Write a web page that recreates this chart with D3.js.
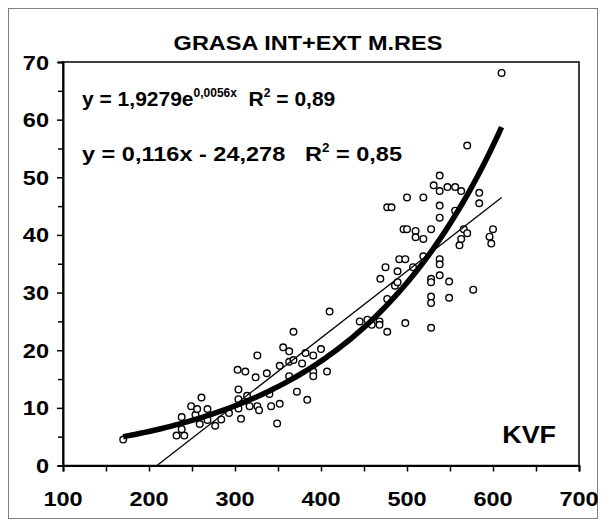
<!DOCTYPE html>
<html lang="es">
<head>
<meta charset="UTF-8">
<title>GRASA INT+EXT M.RES</title>
<script src="https://d3js.org/d3.v7.min.js"></script>
<style>
  body { margin: 0; background: #fff; }
  text { font-family: "Liberation Sans", Arial, sans-serif; font-weight: bold; fill: #000; white-space: pre; }
</style>
</head>
<body>
<div id="chart"></div>
<script>
// KVF (x) and grasa (y)
const kvf = [170, 232, 241, 238, 238, 249, 254, 256, 259, 261, 268, 268, 277, 284, 293,
  303, 304, 304, 304, 307, 312, 314, 317, 324, 326, 326, 328, 337, 340, 342, 352, 349,
  352, 356, 363, 363, 363, 368, 368, 372, 378, 382, 384, 391, 391, 391, 400, 407, 410,
  445, 454, 459, 468, 468, 477, 498, 528, 469, 475, 477, 477, 482, 486, 489, 489, 491,
  498, 496, 500, 500, 507, 510, 510, 519, 519, 519, 528, 528, 528, 528, 528, 531, 538,
  538, 538, 538, 538, 538, 538, 547, 549, 549, 556, 556, 561, 563, 563, 566, 570, 570,
  577, 584, 584, 596, 598, 600, 610];
const grasa = [4.5, 5.2, 5.2, 6.3, 8.4, 10.3, 8.8, 9.8, 7.2, 11.8, 9.8, 7.9, 6.9, 8.0, 9.1,
  16.6, 13.2, 11.5, 9.9, 8.1, 16.3, 12.1, 10.3, 15.3, 19.1, 10.3, 9.6, 16.0, 12.4, 10.3, 10.7, 7.3,
  17.3, 20.5, 19.8, 18.0, 15.5, 23.2, 18.3, 12.8, 17.7, 19.5, 11.4, 19.1, 16.3, 15.5, 20.2, 16.3, 26.7,
  25.0, 25.3, 24.4, 25.0, 24.4, 23.2, 24.7, 23.9, 32.4, 34.4, 28.9, 44.8, 44.8, 31.2, 33.7, 31.8, 35.8,
  35.8, 41.0, 41.0, 46.5, 34.4, 40.7, 39.6, 46.5, 39.3, 36.3, 41.0, 32.4, 31.8, 29.3, 28.2, 48.6, 50.3,
  47.6, 45.1, 43.0, 35.8, 34.9, 33.0, 48.3, 31.9, 29.1, 48.3, 44.2, 38.2, 47.6, 39.3, 41.0, 40.3, 55.5,
  30.5, 47.3, 45.5, 39.7, 38.5, 41.0, 68.1];

// trendline coefficients as printed on the chart
const expFit = [1.9279, 0.0056];
const linFit = [0.116, -24.278];

const xTicks = [100, 200, 300, 400, 500, 600, 700];
const yTicks = [0, 10, 20, 30, 40, 50, 60, 70];

const W = 605, H = 526;
const SX = 1.12; // the original lettering is a little stretched sideways
const svg = d3.select("#chart").append("svg")
  .attr("width", W).attr("height", H);

// text placed with a sideways stretch
function label(px, py, size, anchor, sx) {
  return svg.append("text")
    .attr("transform", `translate(${px},${py}) scale(${sx || SX},1)`)
    .attr("text-anchor", anchor || "start")
    .style("font-size", size + "px");
}

// outer chart border
svg.append("rect")
  .attr("x", 8.5).attr("y", 8.5).attr("width", 589).attr("height", 510)
  .attr("fill", "#fff").attr("stroke", "#808080").attr("stroke-width", 1);

const x = d3.scaleLinear().domain([100, 700]).range([63, 579]);
const y = d3.scaleLinear().domain([0, 70]).range([465.5, 62]);

label(308, 50, 21, "middle").text("GRASA INT+EXT M.RES");

// plot frame
svg.append("rect")
  .attr("x", x(100)).attr("y", y(70))
  .attr("width", x(700) - x(100)).attr("height", y(0) - y(70))
  .attr("fill", "none").attr("stroke", "#000").attr("stroke-width", 1.5);

// axes
const xAxis = svg.append("g")
  .attr("transform", `translate(0,${y(0)})`)
  .call(d3.axisBottom(x).tickValues(d3.range(100, 701, 50)).tickSize(6).tickFormat(""));
const yAxis = svg.append("g")
  .attr("transform", `translate(${x(100)},0)`)
  .call(d3.axisLeft(y).tickValues(d3.range(0, 71, 5)).tickSize(5).tickFormat(""));
[xAxis, yAxis].forEach(g => {
  g.select(".domain").attr("stroke-width", 2);
  g.selectAll(".tick line").attr("stroke-width", 1.5);
});
yAxis.selectAll(".tick line").filter(d => d % 10 === 0).attr("x2", -6);

xTicks.forEach(t => label(x(t), 506, 21, "middle").text(t));
yTicks.forEach(t => label(49, y(t) + 7.5, 21, "end").text(t));

// points
const pts = kvf.map((v, i) => [v, grasa[i]]);
svg.selectAll(".pt").data(pts).enter().append("circle")
  .attr("class", "pt")
  .attr("cx", d => x(d[0])).attr("cy", d => y(d[1]))
  .attr("r", 3.3)
  .attr("fill", "#fff").attr("stroke", "#000").attr("stroke-width", 1.4);

// linear trendline
const x0 = -linFit[1] / linFit[0];
const xMax = d3.max(kvf);
svg.append("path")
  .datum([x0, xMax])
  .attr("d", d3.line().x(d => x(d)).y(d => y(linFit[0] * d + linFit[1])))
  .attr("fill", "none").attr("stroke", "#000").attr("stroke-width", 1.3);

// exponential trendline
const xs = d3.range(d3.min(kvf), xMax + 0.1, 5);
svg.append("path")
  .datum(xs)
  .attr("d", d3.line().x(d => x(d)).y(d => y(expFit[0] * Math.exp(expFit[1] * d))))
  .attr("fill", "none").attr("stroke", "#000").attr("stroke-width", 5.5)
  .attr("stroke-linejoin", "round");

// equations
const eq1 = label(82, 106, 21, "start", 1.0);
eq1.append("tspan").text("y = 1,9279e");
eq1.append("tspan").attr("dy", -9).style("font-size", "12px").text("0,0056x");
eq1.append("tspan").attr("dy", 9).text("  R");
eq1.append("tspan").attr("dy", -9).style("font-size", "12px").text("2");
eq1.append("tspan").attr("dy", 9).text(" = 0,89");

const eq2 = label(82, 161, 21);
eq2.append("tspan").text("y = 0,116x - 24,278  ");
eq2.append("tspan").attr("dx", 6).text("R");
eq2.append("tspan").attr("dy", -9).style("font-size", "12px").text("2");
eq2.append("tspan").attr("dy", 9).text(" = 0,85");

label(556, 443, 24, "end").text("KVF");
</script>
</body>
</html>
